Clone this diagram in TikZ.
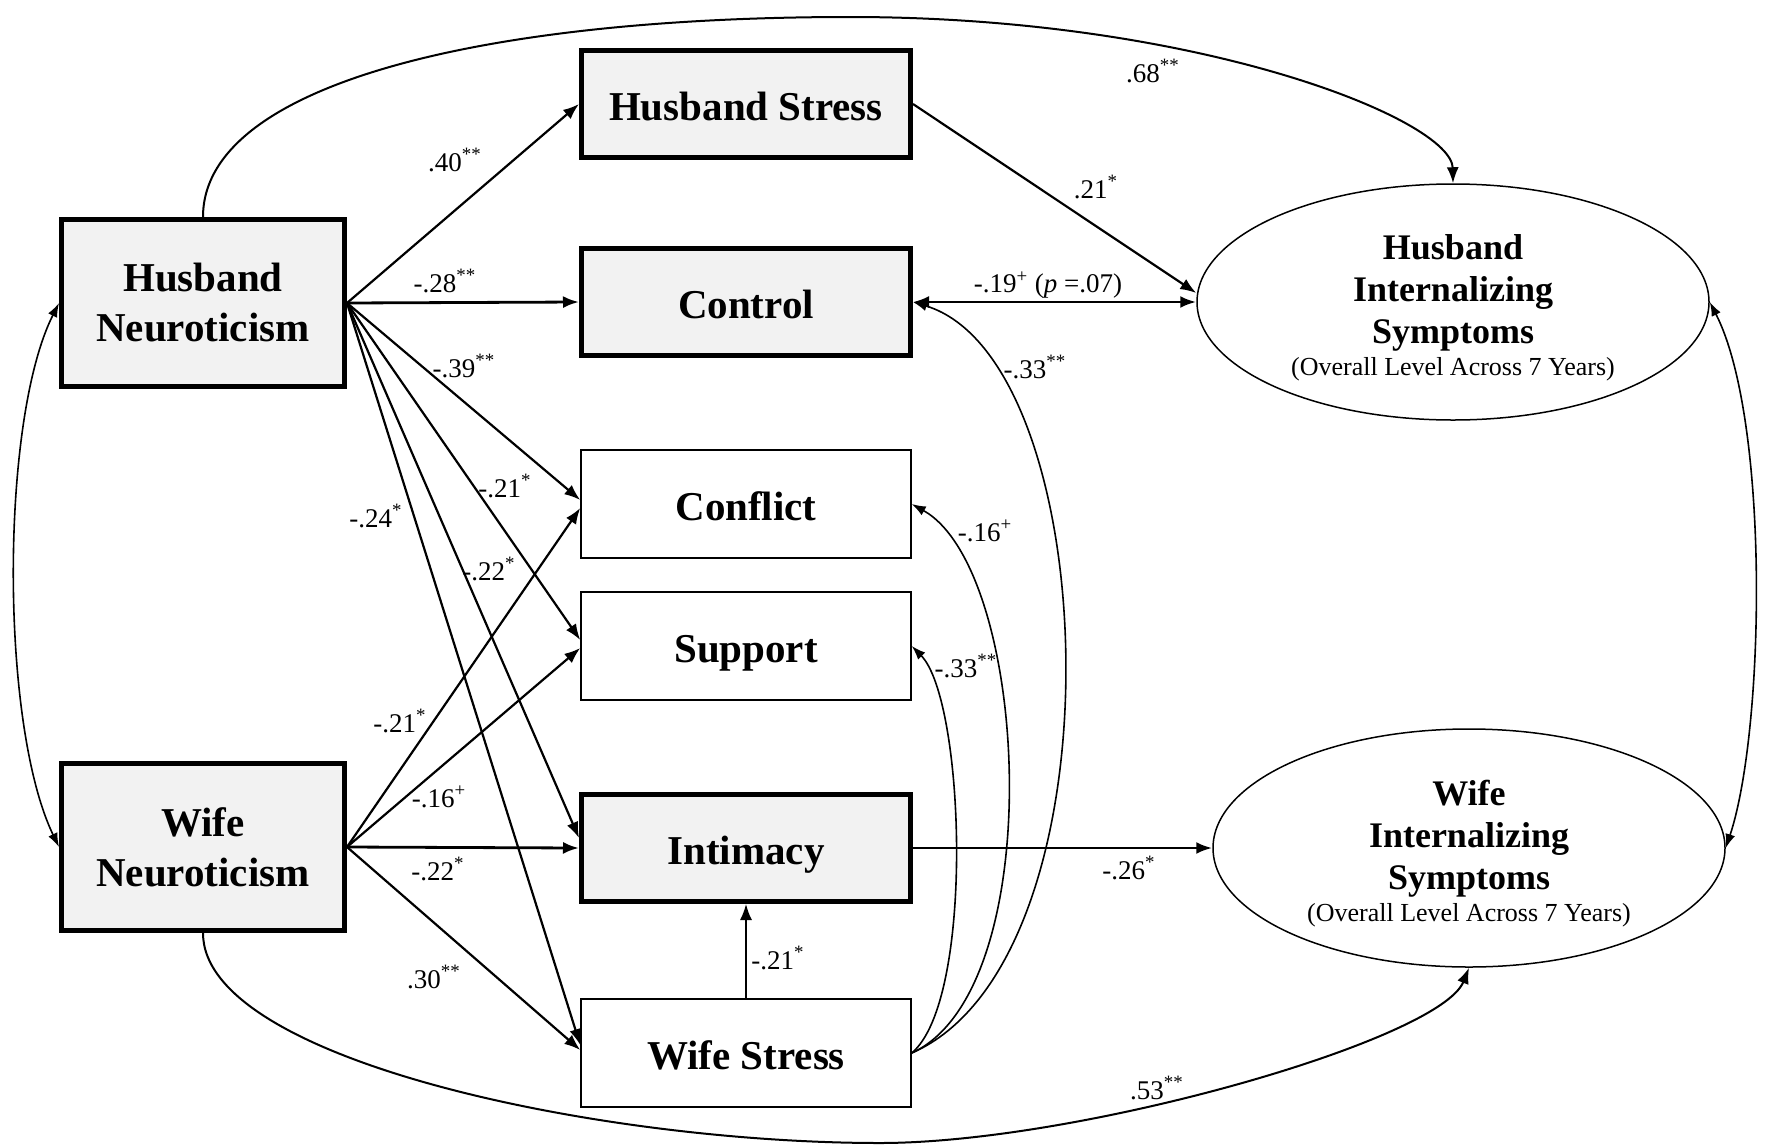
\documentclass[tikz,border=0pt]{standalone}
\usepackage{fontspec}
\setmainfont{Liberation Serif}
\usetikzlibrary{shapes.geometric,arrows.meta}
\tikzset{
  varbox/.style={draw, align=center, inner sep=0pt, font=\fontsize{20.5}{25}\selectfont\bfseries},
  neuro/.style={varbox, line width=2.5pt, fill=black!5, minimum width=141.5pt, minimum height=83.5pt},
  heavybox/.style={varbox, line width=2.5pt, fill=black!5, minimum width=164.5pt, minimum height=53.5pt,
    text height=19pt, text depth=3pt},
  lightbox/.style={varbox, line width=0.75pt, fill=white, minimum width=165pt, minimum height=54pt,
    text height=19pt, text depth=3pt},
  outcome/.style={ellipse, draw, line width=0.75pt, inner sep=0pt, align=center,
    minimum width=256pt, minimum height=118pt, font=\fontsize{18}{21}\selectfont\bfseries},
  coef/.style={inner sep=0pt, font=\fontsize{13.5}{15}\selectfont},
}
\newcommand{\subline}{{\fontsize{13}{15}\selectfont\mdseries (Overall Level Across 7 Years)}}
\newcommand{\topstrut}{\rule{0pt}{18.5pt}}
\begin{document}
\begin{tikzpicture}[x=0.5pt,y=-0.5pt,
    effect/.style={line width=1.1pt, -{Latex[length=8pt,width=6pt]}},
    bend effect/.style={line width=0.8pt, -{Latex[length=7pt,width=5pt]}},
    assoc/.style={line width=0.8pt, {Latex[length=7pt,width=5pt]}-{Latex[length=7pt,width=5pt]}}]
  \useasboundingbox (0,0) rectangle (1783,1146);
  % Variables:
  \node[neuro] (HNeuro) at (203,303) {Husband\\Neuroticism};
  \node[neuro] (WNeuro) at (203,847) {Wife\\Neuroticism};
  \node[heavybox] (HStress) at (746,104) {Husband Stress};
  \node[heavybox] (Control) at (746,302) {Control};
  \node[lightbox] (Conflict) at (746,504) {Conflict};
  \node[lightbox] (Support) at (746,646) {Support};
  \node[heavybox] (Intimacy) at (746,848) {Intimacy};
  \node[lightbox] (WStress) at (746,1053) {Wife Stress};
  \node[outcome] (HInt) at (1453,302) {\topstrut Husband\\Internalizing\\Symptoms\\[-5pt]\subline};
  \node[outcome, minimum height=119pt] (WInt) at (1469,848) {\topstrut Wife\\Internalizing\\Symptoms\\[-5pt]\subline};
  \coordinate (topmid) at (850,17);
  \coordinate (botmid) at (880,1143);
  %
  % Husband neuroticism paths:
  \draw[effect] (HNeuro.east) -- (HStress.west);
  \draw[effect, line width=1.4pt] (HNeuro.east) -- (Control.west);
  \draw[effect] (HNeuro.east) -- ([yshift=2pt]Conflict.west);
  \draw[effect] (HNeuro.east) -- ([yshift=3pt]Support.west);
  \draw[effect] (HNeuro.east) -- ([yshift=5pt]Intimacy.west);
  \draw[effect] (HNeuro.east) -- ([yshift=4pt]WStress.west);
  % Wife neuroticism paths:
  \draw[effect] (WNeuro.east) -- ([yshift=-2pt]Conflict.west);
  \draw[effect] (WNeuro.east) -- ([yshift=-1pt]Support.west);
  \draw[effect, line width=1.4pt] (WNeuro.east) -- (Intimacy.west);
  \draw[effect] (WNeuro.east) -- ([yshift=1.5pt]WStress.west);
  % Paths to the outcomes:
  \draw[effect] (HStress.east) -- ([yshift=4.5pt]HInt.west);
  \draw[effect, line width=1.4pt, {Latex[length=8pt,width=6pt]}-{Latex[length=8pt,width=6pt]}] (Control.east) -- (HInt.west);
  \draw[effect, line width=1.4pt] (Intimacy.east) -- (WInt.west);
  \draw[effect, line width=0.8pt] (WStress.north) -- (Intimacy.south);
  \draw[effect, line width=1pt] (HNeuro.north) .. controls (203,85) and (480,17) .. (topmid)
    .. controls (1200,17) and (1452,120) .. (HInt.north);
  \draw[effect, line width=1pt] (WNeuro.south) .. controls (203,1060) and (600,1143) .. (botmid)
    .. controls (1080,1143) and (1440,1040) .. (WInt.south);
  % Wife stress curves:
  \draw[bend effect] (WStress.east) .. controls (1125,960) and (1105,360) .. (Control.east);
  \draw[bend effect] (WStress.east) .. controls (1050,990) and (1030,570) .. (Conflict.east);
  \draw[bend effect] (WStress.east) .. controls (975,1000) and (965,700) .. (Support.east);
  % Correlations:
  \draw[assoc] (HNeuro.west) .. controls (0,420) and (0,725) .. (WNeuro.west);
  \draw[assoc] (HInt.east) .. controls (1770,420) and (1765,730) .. (WInt.east);
  %
  % Coefficients:
  \node[coef] (c40) at (455,160) {.40\textsuperscript{**}};
  \node[coef] (c28) at (445,281) {-.28\textsuperscript{**}};
  \node[coef] (c39) at (464,366) {-.39\textsuperscript{**}};
  \node[coef] (c21a) at (505,486) {-.21\textsuperscript{*}};
  \node[coef] (c24) at (376,516) {-.24\textsuperscript{*}};
  \node[coef] (c22a) at (489,569) {-.22\textsuperscript{*}};
  \node[coef] (c21b) at (400,721) {-.21\textsuperscript{*}};
  \node[coef] (c16a) at (439,797) {-.16\textsuperscript{+}};
  \node[coef] (c22b) at (438,869) {-.22\textsuperscript{*}};
  \node[coef] (c30) at (434,977) {.30\textsuperscript{**}};
  \node[coef] (c21c) at (1096,187) {.21\textsuperscript{*}};
  \node[coef] (c19) at (1048,285) {-.19\textsuperscript{+} (\textit{p} =.07)};
  \node[coef] (c26) at (1129,868) {-.26\textsuperscript{*}};
  \node[coef] (c21d) at (778,958) {-.21\textsuperscript{*}};
  \node[coef] (c68) at (1153,71) {.68\textsuperscript{**}};
  \node[coef] (c53) at (1157,1088) {.53\textsuperscript{**}};
  \node[coef] (c33a) at (1035,367) {-.33\textsuperscript{**}};
  \node[coef] (c16b) at (985,531) {-.16\textsuperscript{+}};
  \node[coef] (c33b) at (966,666) {-.33\textsuperscript{**}};
\end{tikzpicture}
\end{document}
